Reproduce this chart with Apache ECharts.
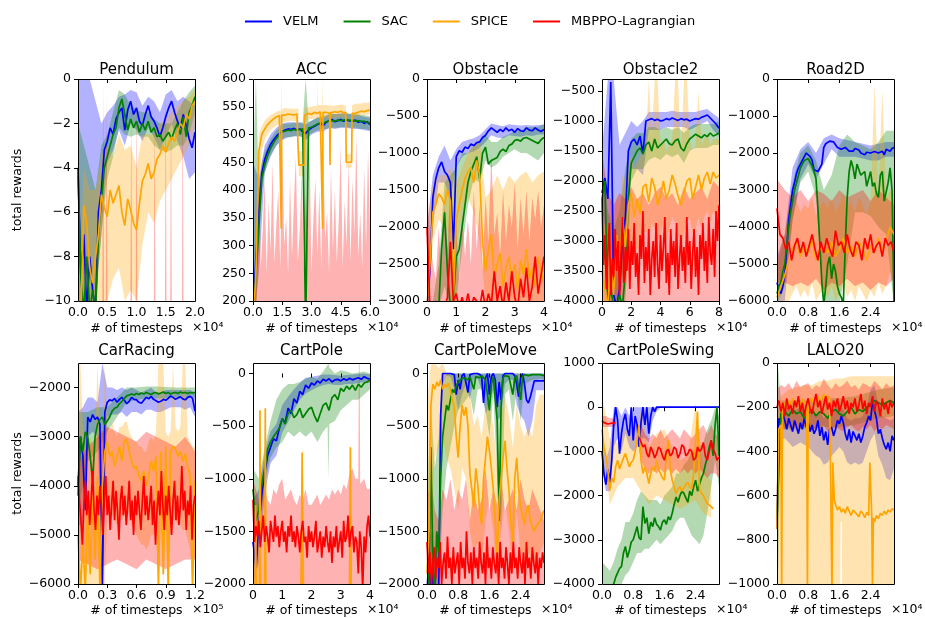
<!DOCTYPE html>
<html><head><meta charset="utf-8">
<script src="https://cdn.jsdelivr.net/npm/echarts@6/dist/echarts.min.js"></script>
<style>html,body{margin:0;padding:0;background:#fff}#c{width:925px;height:618px}</style>
</head><body><div id="c"></div>
<script>
// ---------------- DATA (x in units of the axis multiplier) ----------------
const methods = ['VELM', 'SAC', 'SPICE', 'MBPPO-Lagrangian'];

// Pendulum (x: 0..2 x1e4)
const pendulumVelm = [-4,-9,-7,-10.5,-8,-9.5,-10.5,-6,-5,-3.2,-2.8,-2.2,-2.5,-1.8,-1.5,-1.3,-2.3,-1.4,-1.0,-1.6,-1.3,-1.9,-2.1,-1.6,-1.2,-1.7,-1.9,-2.2,-2.6,-2.2,-1.7,-1.3,-1.0,-1.5,-1.9,-2.2,-1.6,-2.1,-2.7,-3.1,-2.4];
const pendulumVelmLo = [-10,-10,-10,-10,-7,-3.8,-3.2,-2.3,-3,-2,-2.3,-2.8,-2.2,-2.6,-3.2,-2.6,-2,-2.8,-3.5,-4.5,-4.2];
const pendulumVelmHi = [0,0,0,-1,-2,-1.5,-1.2,-0.8,-0.7,-0.5,-0.6,-1.2,-0.8,-1,-1.5,-0.7,-0.5,-1,-0.8,-1,-1.2];
const pendulumSac = [-4.3,-9,-10.5,-8,-10.5,-9.5,-10.5,-7,-5.5,-4,-3.5,-3,-2.5,-2.2,-1.3,-0.9,-1.6,-2.3,-1.8,-2.2,-1.9,-2.4,-2.0,-2.3,-1.9,-2.4,-2.2,-2.6,-2.5,-2.8,-2.6,-2.4,-2.7,-2.3,-2.0,-2.5,-1.7,-2.6,-1.5,-1.2,-0.8];
const pendulumSacLo = [-10,-10,-10,-10,-7,-4.5,-3.5,-2.2,-2.5,-2.6,-2.5,-2.6,-2.6,-3.0,-3.2,-3.3,-3.2,-3,-3,-2.5,-1.5];
const pendulumSacHi = [-2,-3,-4,-5,-3,-2.5,-1.5,-0.5,-0.7,-1.2,-1.4,-1.5,-1.5,-1.8,-2,-2,-2,-1.5,-1,-0.6,-0.3];
const pendulumSpice = [-10.5,-10.5,-5.7,-6.5,-8.5,-9.2,-8,-7,-5.2,-5.8,-6.2,-5.0,-5.6,-5.2,-4.8,-6.0,-6.6,-5.4,-5.9,-6.5,-6.8,-5.6,-4.6,-4.3,-3.8,-4.5,-4.2,-3.6,-3.4,-3.0,-3.3,-2.9,-2.6,-2.8,-2.4,-2.0,-2.2,-1.6,-1.8,-1.2,-1.0];
const pendulumSpiceLo = [-10,-10,-10,-10,-10,-10,-9,-8.5,-10,-9.5,-10,-7.5,-6,-6.5,-5.5,-5,-4.5,-4,-3.5,-3,-2.2];
const pendulumSpiceHi = [-10,-4,-5,-5,-3.5,-3,-3.5,-2.5,-3.2,-3,-4,-2.5,-2.5,-2.5,-2,-1.8,-1.5,-1.2,-1,-0.8,-0.5];
const pendulumMbppoBand = [[0,-12,-11],[0.415,-12,-11],[0.43,-12,0],[0.445,-12,-11],[0.475,-12,-11],[0.49,-12,-0.5],[0.505,-12,-11],[0.895,-12,-11],[0.91,-12,-0.5],[0.925,-12,-11],[0.985,-12,-11],[1.0,-12,0],[1.015,-12,-11],[1.295,-12,-11],[1.31,-12,-1],[1.325,-12,-11],[1.485,-12,-11],[1.5,-12,0],[1.515,-12,-11],[1.575,-12,-11],[1.59,-12,-0.5],[1.605,-12,-11],[1.775,-12,-11],[1.79,-12,0],[1.805,-12,-11],[2.0,-12,-11]];

// ACC (x: 0..6 x1e4)
const accVelm = [150,280,360,430,455,470,482,490,497,502,506,508,510,509,511,508,510,505,502,508,512,515,518,520,516,522,525,527,523,525,527,524,526,525,524,526,522,524,520,523,518];
const accVelmLo = [150,250,430,460,480,490,495,497,497,490,500,505,505,512,510,512,512,510,510,508,506];
const accVelmHi = [450,420,480,500,512,520,522,522,522,518,525,530,530,537,537,538,538,536,535,532,530];
const accSac = [150,250,330,420,445,462,475,485,493,499,505,506,508,507,509,508,509,510,150,512,513,516,519,521,520,523,524,525,524,526,525,526,527,525,526,524,525,523,524,522,521];
const accSacLo = [150,150,330,400,430,450,462,472,480,487,490,495,495,495,497,497,497,497,150,500,502,505,507,508,510,510,511,512,512,512,513,513,513,512,512,512,511,510,510,509,508];
const accSacHi = [450,600,400,450,470,480,492,500,507,512,518,520,520,520,521,520,521,522,600,523,525,528,531,532,534,535,536,537,537,537,538,538,538,538,537,537,537,535,535,534,533];
const accSpice = [[0,150],[0.15,250],[0.3,470],[0.45,500],[0.6,510],[0.75,518],[0.9,523],[1.05,528],[1.2,532],[1.35,534],[1.43,535],[1.45,330],[1.47,535],[1.65,535],[1.8,537],[1.95,536],[2.1,535],[2.25,537],[2.33,536],[2.35,445],[2.63,445],[2.65,535],[2.85,538],[3.0,536],[3.15,540],[3.3,538],[3.45,541],[3.55,540],[3.57,330],[3.59,540],[3.75,540],[3.93,538],[3.95,445],[3.97,539],[4.2,541],[4.35,540],[4.5,542],[4.65,539],[4.76,540],[4.78,450],[5.06,450],[5.08,538],[5.25,538],[5.4,540],[5.55,542],[5.7,541],[5.85,543],[6.0,544]];
const accSpiceBand = [[0,150,200],[0.15,150,300],[0.3,400,500],[0.45,470,515],[0.6,490,525],[0.75,500,530],[0.9,508,535],[1.05,512,538],[1.2,516,541],[1.35,520,543],[1.43,520,543],[1.45,330,600],[1.47,522,545],[1.65,522,548],[1.8,524,547],[1.95,525,547],[2.1,524,546],[2.25,525,547],[2.33,523,546],[2.35,425,470],[2.63,425,470],[2.65,523,548],[2.85,527,549],[3.0,528,550],[3.15,529,552],[3.28,528,552],[3.3,528,600],[3.32,530,553],[3.55,530,553],[3.57,330,600],[3.59,530,553],[3.75,530,553],[3.93,530,552],[3.95,440,560],[3.97,530,552],[4.2,530,552],[4.35,531,553],[4.5,531,554],[4.65,530,553],[4.76,528,552],[4.78,440,465],[5.06,440,465],[5.08,530,553],[5.25,532,555],[5.4,533,556],[5.55,534,556],[5.7,535,557],[5.85,535,557],[6.0,536,558]];
const accMbppoHi = [200,230,300,470,260,330,420,250,380,290,450,270,340,400,260,480,300,350,250,420,280,380,460,270,330,430,260,390,300,480,250,350,420,280,400,260,470,310,360,250,440,290,400,270,350,480,260,380,300,450,270,420,320,500,280,360,260,440,300,470,330];

// Obstacle (x: 0..4 x1e4)
const obstacleVelm = [-3100,-2600,-1600,-1350,-1200,-1120,-1250,-1300,-1400,-2300,-1050,-970,-990,-920,-940,-880,-900,-860,-850,-790,-760,-700,-660,-690,-720,-680,-710,-660,-700,-680,-720,-670,-700,-710,-660,-690,-700,-660,-690,-710,-680];
const obstacleVelmLo = [-3100,-2000,-1400,-1400,-1600,-1200,-1050,-1000,-980,-930,-850,-760,-790,-800,-760,-770,-780,-760,-770,-750,-750];
const obstacleVelmHi = [-2000,-1300,-1050,-900,-1100,-950,-850,-820,-800,-760,-680,-600,-620,-640,-610,-620,-630,-620,-630,-620,-620];
const obstacleSac = [-3100,-3100,-3100,-3100,-3100,-2300,-1800,-2600,-3100,-3000,-2400,-2300,-2000,-1700,-1400,-1250,-1150,-1050,-1350,-1000,-920,-1150,-1100,-1080,-1060,-980,-950,-980,-900,-880,-830,-820,-840,-800,-790,-810,-830,-850,-870,-820,-790];
const obstacleSacLo = [-3100,-3100,-3100,-2800,-3100,-3000,-2300,-1700,-1350,-1400,-1100,-1200,-1150,-1050,-1000,-950,-1000,-1000,-1050,-1100,-1000];
const obstacleSacHi = [-3000,-3000,-2500,-1400,-1300,-1200,-1000,-1000,-900,-850,-750,-850,-850,-780,-750,-700,-700,-650,-650,-650,-600];
const obstacleSpice = [-3100,-2500,-1800,-1700,-1550,-1600,-1700,-1500,-1650,-3000,-1900,-1700,-1500,-1350,-1250,-1200,-1400,-1100,-1300,-2200,-2600,-2300,-2100,-2700,-2500,-2350,-2800,-2550,-2400,-2700,-2500,-2850,-2450,-2650,-2300,-2700,-2550,-2800,-2400,-2600,-2750];
const obstacleSpiceLo = [-3100,-2200,-1900,-2000,-2100,-2300,-1800,-1600,-1800,-2200,-3000,-3000,-3100,-3100,-3100,-3100,-3100,-3100,-3100,-3100,-3100];
const obstacleSpiceHi = [-2000,-1400,-1300,-1300,-1200,-1400,-1200,-1000,-900,-800,-1600,-1500,-1300,-1500,-1300,-1400,-1300,-1250,-1400,-1300,-1250];
const obstacleMbppo = [-2000,-3100,-3100,-3000,-3100,-3050,-3100,-2950,-2200,-3000,-2900,-3100,-2950,-3100,-2900,-3100,-2950,-3000,-3100,-2850,-3100,-2900,-3050,-2600,-3000,-2800,-3100,-2750,-3000,-2600,-2950,-3100,-2700,-2950,-2550,-3000,-2800,-2400,-2900,-2650,-2400];
const obstacleMbppoHi = [-1300,-2200,-2500,-2700,-2000,-2600,-1700,-2300,-1400,-2500,-2000,-2700,-1800,-2400,-1900,-2500,-1500,-2300,-1700,-2600,-1600,-2200,-1000,-2100,-1800,-2400,-1500,-2200,-1700,-2000,-1400,-2300,-1600,-2100,-1500,-2200,-1600,-1900,-1500,-2000,-1700];

// Obstacle2 (x: 0..8 x1e4)
const obstacle2Velm = [-2200,-1950,-2300,-350,-3900,-4100,-3800,-3000,-2600,-1500,-1350,-1300,-1400,-1250,-1550,-1000,-980,-960,-990,-970,-1000,-990,-960,-980,-950,-970,-990,-960,-980,-970,-1000,-980,-960,-970,-940,-920,-900,-950,-1000,-1050,-1120];
const obstacle2VelmLo = [-2500,-3000,-4100,-4100,-3200,-1800,-1800,-1900,-1150,-1150,-1150,-1100,-1100,-1100,-1100,-1150,-1100,-1050,-1000,-1150,-1250];
const obstacle2VelmHi = [-1500,-300,-300,-1400,-1200,-1000,-1100,-1000,-850,-850,-850,-850,-830,-850,-850,-850,-850,-820,-800,-880,-950];
const obstacle2Sac = [-2300,-2000,-4100,-3800,-4100,-4100,-3900,-4100,-3500,-2300,-1700,-1600,-1500,-1450,-1550,-1400,-1350,-1500,-1300,-1450,-1400,-1350,-1300,-1380,-1400,-1330,-1300,-1450,-1500,-1380,-1300,-1260,-1220,-1250,-1280,-1230,-1260,-1200,-1250,-1230,-1200];
const obstacle2SacLo = [-2800,-4100,-4100,-4100,-4000,-2000,-1800,-1800,-1650,-1600,-1650,-1550,-1600,-1550,-1700,-1500,-1450,-1450,-1450,-1400,-1400];
const obstacle2SacHi = [-1800,-2500,-2800,-2500,-1800,-1300,-1200,-1200,-1100,-1100,-1150,-1100,-1150,-1100,-1200,-1100,-1050,-1050,-1050,-1050,-1000];
const obstacle2Spice = [-3500,-3800,-4100,-3300,-3900,-2900,-3400,-2600,-3100,-2400,-2200,-2600,-2300,-2550,-2100,-2050,-2350,-1950,-2100,-2400,-2250,-2000,-2300,-2150,-1900,-2050,-2250,-2400,-2200,-2000,-1950,-2300,-2100,-1900,-2150,-1950,-1850,-2050,-1850,-1950,-1900];
const obstacle2SpiceLo = [-4100,-4100,-4100,-4100,-4100,-3800,-4100,-3600,-3900,-3300,-3000,-3300,-3100,-3200,-2900,-2800,-3000,-2700,-2800,-3000,-2900,-2700,-3000,-2800,-2600,-2700,-2900,-3100,-2900,-2700,-2600,-2900,-2800,-2600,-2800,-2600,-2500,-2700,-2500,-2600,-2500];
const obstacle2SpiceHi = [-2500,-2800,-3000,-2500,-2700,-2200,-2400,-1900,-2000,-1700,-1600,-1800,-1700,-1600,-1500,-1400,-300,-1300,-300,-300,-1400,-1300,-1500,-1400,-1300,-300,-300,-1600,-300,-300,-1300,-1500,-1400,-500,-1400,-1300,-1200,-1400,-1300,-1300,-1300];
const obstacle2Mbppo = [-2300,-3400,-2900,-3800,-3200,-2700,-3900,-3300,-3600,-2800,
  -3500,-3000,-3900,-3200,-2600,-3700,-3100,-3500,-2800,-3800,
  -3000,-3400,-2700,-3600,-3200,-3900,-2900,-3300,-2500,-3700,
  -3100,-3500,-2800,-3900,-3300,-3000,-3600,-2700,-3400,-3800,
  -2900,-3500,-3100,-2600,-3700,-3200,-3900,-2800,-3400,-3000,
  -3600,-2700,-3800,-3300,-2900,-3500,-3100,-3700,-2600,-3400,
  -3000,-3800,-3200,-2800,-3600,-3100,-3900,-2900,-3300,-2700,
  -3500,-3000,-3700,-2600,-3200,-3400,-2800,-3600,-2500,-3000,-2400];
const obstacle2MbppoHi = [-1500,-2200,-2400,-2200,-2300,-2100,-2300,-2200,-2400,-2200,-2100,-2300,-2200,-2400,-2100,-2300,-2200,-2100,-2300,-2000,-2100];

// Road2D (x: 0..3 x1e4)
const road2dVelm = [-5500,-5700,-5800,-5600,-5300,-4600,-3800,-3400,-3000,-2800,-2550,-2400,-2300,-2200,-2100,-2000,-1950,-2100,-2200,-2450,-2400,-2500,-2550,-2300,-1850,-1750,-1700,-1680,-1650,-1700,-1750,-1850,-1850,-1900,-1900,-1850,-1850,-1950,-1900,-1950,-1880,-1920,-1920,-2000,-1950,-2050,-1980,-2000,-2000,-2050,-1960,-2000,-2000,-1950,-1950,-2050,-1900,-1950,-1950,-1880,-1850];
const road2dVelmLo = [-6100,-6000,-3800,-2700,-2300,-2700,-2300,-1900,-2100,-2100,-2100,-2150,-2200,-2200,-2100,-2100];
const road2dVelmHi = [-4800,-4200,-2400,-1900,-1700,-2000,-1600,-1500,-1600,-1650,-1700,-1750,-1800,-1750,-1700,-1700];
const road2dSac = [-5800,-5600,-5500,-5200,-5000,-4500,-4000,-3600,-3300,-3000,-2800,-2600,-2400,-2300,-2200,-2150,-2150,-2250,-2350,-2500,-2700,-3500,-4500,-5500,-6100,-5600,-5000,-4800,-5400,-5000,-5200,-5600,-5800,-5900,-6100,-4500,-3200,-2500,-2200,-2400,-2700,-2300,-2300,-2600,-2600,-2500,-2900,-2700,-2500,-2900,-2800,-3100,-3200,-2600,-2500,-3300,-3300,-2800,-2400,-3000,-6100];
const road2dSacLo = [-6100,-5600,-3800,-2800,-2500,-3200,-6100,-6100,-6100,-5000,-3600,-3600,-3700,-4000,-4200,-6100];
const road2dSacHi = [-5000,-4200,-2800,-2000,-1800,-2200,-3000,-2600,-1800,-1500,-1700,-1800,-1900,-1700,-1400,-1400];
const road2dSpice = [-5900,-5600,-5300,-4900,-4600,-4400,-4800,-4500,-4700,-4300,-4900,-4600,-4500,-4700,-4400,-4800,-4600,-4300,-4700,-4500,-4800,-4400,-4600,-4900,-4500,-4700,-4300,-4600,-4400,-4000,-4200];
const road2dSpiceLo = [-6100,-6100,-6100,-6000,-5800,-5600,-5900,-5700,-5900,-5500,-6000,-5800,-5700,-5900,-5600,-6000,-5800,-5500,-5900,-5700,-6000,-5600,-5800,-6000,-5700,-5900,-5500,-5800,-5600,-5200,-5400];
const road2dSpiceHi = [-5000,-4500,-4200,-3700,-3500,-3300,-3600,-3400,-3500,-3200,-3700,-3400,-3300,-3500,-3200,-3600,-3400,-3100,-3500,-3300,-3600,-3200,-3400,-3700,-3300,-100,-3100,-300,-3200,-3000,-3100];
const road2dMbppo = [-3500,-4200,-4300,-4600,-4400,-4900,-4500,-4300,-4700,-4400,-4800,-4500,-4200,-4600,-4900,-4400,-4700,-4300,-4600,-4800,-4100,-4500,-4400,-4700,-4200,-4600,-4800,-4400,-4500,-4900,-4300,-4600,-4200,-4700,-4500,-4400,-4800,-4300,-4500,-4400,-4700];
const road2dMbppoLo = [-5500,-5500,-5600,-5500,-5600,-5400,-5700,-5500,-5600,-5400,-5600,-5500,-5700,-5500,-5600,-5400];
const road2dMbppoHi = [-2700,-3000,-3200,-3000,-3300,-3000,-3100,-3300,-3000,-3200,-3100,-3000,-3300,-3000,-3200,-3400];

// CarRacing (x: 0..1.2 x1e5)
const carRacingVelm = [-4000,-3000,-3400,-4500,-2600,-2700,-2550,-2650,-2600,-2750,-6100,-2500,-2300,-2250,-2270,-2220,-2300,-2240,-2200,-2260,-2330,-2280,-2200,-2240,-2250,-2300,-2320,-2260,-2200,-2230,-2180,-2240,-2270,-2300,-2280,-2240,-2260,-2220,-2170,-2200,-2240,-2210,-2190,-2230,-2250,-2200,-2180,-2220,-2480];
const carRacingVelmLo = [-4800,-4800,-3000,-2900,-3000,-6100,-2600,-2550,-2550,-2500,-2600,-2500,-2500,-2550,-2450,-2450,-2500,-2500,-2450,-2400,-2400,-2400,-2450,-2400,-2600];
const carRacingVelmHi = [-2500,-2400,-2200,-2200,-2300,-1500,-2000,-2000,-2050,-2000,-2050,-2000,-2050,-2100,-2050,-2000,-2100,-2100,-2050,-2050,-2050,-2050,-2050,-2050,-2100];
const carRacingSac = [-4200,-3000,-3300,-2900,-3000,-3400,-3900,-3000,-2750,-2650,-2600,-2750,-2680,-2600,-2480,-2420,-2400,-2330,-2280,-2220,-2170,-2150,-2130,-2150,-2120,-2140,-2110,-2130,-2100,-2120,-2140,-2110,-2100,-2130,-2110,-2090,-2120,-2100,-2130,-2110,-2100,-2120,-2090,-2110,-2100,-2120,-2100,-2110,-2100];
const carRacingSacLo = [-4500,-3500,-3300,-2900,-2600,-2300,-2250,-2220,-2220,-2220,-2200,-2200,-2200];
const carRacingSacHi = [-2500,-2500,-2400,-2400,-2200,-2000,-2000,-1980,-1980,-1990,-2000,-2000,-2000];
const carRacingSpice = [-5000,-6100,-5200,-6100,-4500,-5800,-4200,-5500,-3800,-6100,-4000,-3300,-3100,-3400,-3300,-3600,-3400,-3200,-3500,-3100,-3050,-3300,-3500,-3650,-3600,-3800,-3900,-3700,-4000,-3800,-3500,-3700,-3400,-6100,-3300,-5800,-3200,-6100,-3300,-3200,-3250,-3400,-3300,-3500,-3350,-3600,-3800,-6100,-3900];
const carRacingSpiceLo = [-6100,-6100,-6100,-6100,-6100,-6100,-6100,-6100,-6100,-6100,-6100,-6100,-4500,-4600,-4600,-4700,-4800,-4700,-4700,-4600,-4500,-4600,-4800,-4900,-5000,-5100,-5200,-5200,-5300,-5200,-5000,-5000,-4900,-6100,-4800,-6100,-4700,-6100,-4800,-4700,-4700,-4800,-4800,-4900,-4900,-5100,-5300,-6100,-5400];
const carRacingSpiceHi = [-1500,-1500,-2800,-3000,-3100,-3000,-3200,-3100,-1500,-2900,-3000,-1500,-2800,-2900,-2700,-2900,-3000,-2800,-2800,-2700,-2700,-2900,-3000,-3100,-3100,-3200,-3200,-3300,-3300,-3100,-3000,-3100,-2900,-1500,-1500,-1500,-2900,-3000,-2900,-1500,-2800,-2900,-2800,-1500,-1500,-3000,-3100,-3200,-3200];
const carRacingMbppo = [-3800,-4300,-4700,-5200,-4400,-3900,-4600,-4100,-4800,-4300,
  -3700,-4500,-4900,-4200,-4600,-4000,-4400,-5000,-4300,-3800,
  -4600,-4200,-4900,-4400,-3900,-4700,-4100,-4500,-5100,-4300,
  -4000,-4600,-4200,-4800,-4400,-3900,-4700,-4300,-5000,-4200,
  -4600,-4100,-4500,-4900,-4300,-3800,-4600,-4200,-4700,-4400,
  -4000,-4800,-4300,-5200,-4500,-4100,-4600,-3700,-4400,-4900,
  -4200,-4600,-4000,-4500,-5000,-4300,-3900,-4700,-4200,-4800,
  -4400,-3600,-4500,-4100,-4900,-4300,-4600,-4000,-5100,-4400,-4200];
const carRacingMbppoLo = [-5500,-5600,-5700,-5600,-5500,-5600,-5700,-5500,-5600,-5700,-5600,-5500,-5500];
const carRacingMbppoHi = [-3500,-3200,-3000,-2800,-2900,-3000,-3100,-2900,-3000,-3100,-3200,-3000,-3300];

// CartPole (x: 0..4 x1e4)
const cartPoleVelm = [-1600,-1850,-1450,-1150,-950,-780,-700,-620,-640,-520,-430,-470,-330,-380,-240,-280,-170,-200,-110,-140,-90,-110,-70,-90,-55,-70,-50,-80,-60,-55,-70,-50,-65,-45,-60,-50,-40,-55,-30,-45,-55];
const cartPoleVelmLo = [-2000,-1800,-1150,-850,-780,-560,-460,-350,-250,-190,-160,-130,-110,-100,-110,-110,-100,-100,-90,-80,-90];
const cartPoleVelmHi = [-1200,-1100,-750,-550,-480,-300,-220,-150,-90,-40,-30,-20,-10,-10,-15,-20,-15,-10,-5,0,-10];
const cartPoleSac = [-1100,-1400,-1300,-1050,-900,-720,-650,-600,-560,-520,-430,-480,-380,-350,-420,-390,-330,-420,-380,-340,-320,-400,-460,-380,-300,-280,-350,-230,-200,-250,-140,-170,-120,-150,-110,-160,-100,-130,-90,-80,-60];
const cartPoleSacBand = [[0,-1500,-900],[0.2,-1500,-1000],[0.4,-1050,-700],[0.6,-800,-450],[0.8,-700,-250],[1.0,-650,-150],[1.2,-550,-100],[1.4,-600,-100],[1.6,-550,-80],[1.8,-600,-50],[2.0,-550,-30],[2.2,-650,-50],[2.4,-550,20],[2.55,-500,80],[2.58,-1000,100],[2.61,-480,60],[2.8,-450,0],[3.0,-350,30],[3.2,-300,20],[3.4,-250,0],[3.6,-250,10],[3.8,-200,20],[4.0,-150,0]];
const cartPoleSpice = [[0,-2100],[0.07,-2100],[0.09,-1250],[0.11,-2100],[0.22,-2100],[0.24,-350],[0.26,-2100],[0.4,-2100],[0.42,-330],[0.44,-2100],[1.65,-2100],[1.68,-750],[1.71,-2100],[3.3,-2100],[3.33,-700],[3.36,-2100],[4,-2100]];
const cartPoleSpiceBand = [[0,-2100,-2100],[0.06,-2100,-2100],[0.09,-2100,-1000],[0.12,-2100,-2100],[0.21,-2100,-2100],[0.24,-2100,-300],[0.27,-2100,-2100],[0.39,-2100,-2100],[0.42,-2100,-300],[0.45,-2100,-2100],[1.6,-2100,-2100],[1.65,-2100,-1100],[1.68,-2100,-700],[1.72,-2100,-1000],[1.76,-2100,-2100],[3.27,-2100,-2100],[3.33,-2100,-650],[3.39,-2100,-2100],[4,-2100,-2100]];
const cartPoleMbppo = [-1200,-1600,-1450,-1550,-1400,-1650,-1500,-1350,-1600,-1450,
  -1550,-1700,-1400,-1500,-1600,-1350,-1550,-1450,-1650,-1500,
  -1400,-1600,-1500,-1700,-1450,-1550,-1350,-1600,-1500,-1650,
  -1450,-1550,-1700,-1500,-1400,-1600,-1550,-1750,-1450,-1600,
  -1500,-1650,-1550,-1400,-1700,-1600,-1500,-1750,-1550,-1650,
  -1450,-1600,-1700,-1500,-1800,-1550,-1650,-1450,-1700,-1600,
  -1500,-1750,-1400,-1600,-1550,-1350,-1650,-1500,-1450,-1700,
  -1550,-1600,-1900,-1500,-1650,-2050,-1550,-1700,-1450,-1350,-1550];
const cartPoleMbppoHiA = [-1000,-1100,-1200,-1150,-1100,-1200,-1250,-1100,-1150,-1050,-1000,-1200,-1150,-1100,-1200,-1250,-1150,-1200,-1100,-1250,-1250,-1200,-1150,-1250,-1200,-1150,-1200,-1100,-1150,-1100,-1150,-1050,-1100,-950,-900,-1000];
const cartPoleMbppoTail = [[3.6,-2100,-1000],[3.62,-2100,100],[3.645,-2100,100],[3.665,-2100,-1050],[3.8,-2100,-1000],[3.9,-2100,-1100],[4.0,-2100,-1100]];

// CartPoleMove (x: 0..3 x1e4)
const cartPoleMoveVelm = [-2100,-1700,-2100,-1900,-2100,-2100,-2100,-400,0,0,0,0,0,0,-10,-200,-60,-150,-20,0,0,-180,-10,0,0,0,0,0,-20,-280,-40,0,-200,-30,0,-60,-320,-80,-250,-20,0,0,0,0,0,-20,-100,-220,-40,0,-100,-250,-280,-220,-150,-70,-70,-70,-70,-70,-70];
const cartPoleMoveVelmLo = [-2100,-2100,-2100,-2100,-100,-20,-30,-150,-350,-200,-100,-250,-50,-50,-150,-380,-300,-150,-450,-400,-100,-60,-60,-300,-400,-450,-600,-450,-160,-160,-160];
const cartPoleMoveVelmHi = [-1500,-1500,-1700,-1500,0,0,0,0,0,0,0,0,0,0,0,0,0,0,0,0,0,0,0,0,0,0,0,0,0,0,0];
const cartPoleMoveSac = [-2100,-1900,-700,-1800,-2100,-1500,-1700,-1000,-600,-450,-300,-350,-250,-150,-180,-120,-80,-60,-50,-40,-30,-60,-30,-20,-150,-30,-20,-40,-20,-30,-60,-200,-350,-100,-30,-20,-450,-1400,-300,-40,-20,-20,-30,-20,-200,-40,-20,-10,-250,-30,-10,-10,-20,-10,-10,-10,-10,-10,-10,-10,-20];
const cartPoleMoveSacLo = [-2100,-2100,-2100,-2100,-1300,-900,-700,-500,-350,-300,-250,-200,-400,-150,-150,-350,-600,-200,-1000,-1500,-200,-150,-450,-150,-450,-100,-80,-60,-60,-50,-60];
const cartPoleMoveSacHi = [-1200,-300,-900,-600,-100,0,0,0,0,0,0,0,0,0,0,0,0,0,0,0,0,0,0,0,0,0,0,0,0,0,0];
const cartPoleMoveSpice = [-1900,-1500,-300,-100,-150,-80,-120,-60,-150,-100,-130,-90,-160,-250,-320,-600,-800,-500,-300,-400,-320,-500,-950,-1100,-1270,-900,-1050,-1300,-1430,-1000,-800,-600,-730,-900,-1100,-1400,-1750,-1200,-1000,-800,-640,-900,-1100,-1400,-1600,-1000,-800,-1100,-1270,-1350,-1430,-1300,-1250,-1400,-1460,-1500,-1450,-1420,-1400,-1350,-1300];
const cartPoleMoveSpiceLo = [-2100,-1500,-800,-700,-600,-800,-900,-1100,-1300,-900,-1000,-1500,-1700,-1600,-1800,-1400,-1200,-1500,-2000,-1500,-1200,-1500,-1900,-1300,-1700,-1800,-1700,-1800,-1800,-1700,-1600];
const cartPoleMoveSpiceHi = [-300,100,100,50,100,0,0,-50,-100,-100,-50,-200,-500,-400,-600,-300,-300,-500,-900,-400,-200,-400,-700,-300,-500,-600,-500,-600,-300,-200,-200];
const cartPoleMoveMbppo = [-1600,-1900,-1700,-2000,-1800,-1650,-1950,-1750,-1850,-1600,
  -2000,-1800,-1700,-1950,-1550,-1850,-1750,-2000,-1650,-1900,
  -1800,-1700,-2000,-1600,-1850,-1750,-1950,-1500,-1800,-1900,
  -1700,-2000,-1650,-1850,-1750,-1950,-1600,-1800,-1900,-1700,
  -2000,-1550,-1850,-1750,-1950,-1650,-1800,-1900,-1700,-2000,
  -1600,-1850,-1750,-1950,-1650,-1800,-2000,-1700,-1900,-1600,
  -1850,-1750,-1950,-1650,-1800,-1900,-1700,-2000,-1600,-1850,
  -1750,-1950,-1650,-1800,-1900,-1700,-2000,-1750,-1850,-1700,-1800];
const cartPoleMoveMbppoHi = [-1200,-1000,-1300,-1400,-1100,-1200,-1000,-1300,-1100,-1200,-1000,-1400,-1100,-1300,-1200,-900,-1300,-1100,-1250,-1000,-1300,-1200,-1100,-1300,-1000,-1200,-1300,-1100,-1200,-1300,-1400];

// CartPoleSwing (x: 0..3 x1e4)
const cartPoleSwingVelm = [-1000,-1500,-1750,-1400,-1700,-1200,-400,0,-300,-1050,-600,-300,-150,-500,-650,0,-750,-200,-400,-900,-350,0,-400,0,-600,-200,0,-100,0,0,0,0,0,0,0,0,0,0,0,0,0,0,0,0,0,0,0,0,0,0,0,0,0,0,0,0,0,0,0,0,0];
const cartPoleSwingVelmLo = [-1400,-1900,-1900,-900,-700,-1000,-600,-900,-1000,-900,-700,-700,-800,-300,-100,-10,-10,-10,-10,-10,-10,-10,-10,-10,-10,-10,-10,-10,-10,-10,-10];
const cartPoleSwingVelmHi = [-500,-1200,-900,0,0,-200,0,-200,0,0,0,0,0,0,0,10,10,10,10,10,10,10,10,10,10,10,10,10,10,10,10];
const cartPoleSwingSac = [-4100,-4100,-4100,-4100,-4100,-4100,-4000,-3850,-3750,-3650,-3600,-3300,-3150,-3400,-3250,-3050,-3000,-2850,-2700,-2950,-3000,-2250,-2630,-2500,-2860,-2600,-2700,-2500,-2650,-2700,-2780,-2600,-2550,-2650,-2480,-2550,-2400,-2200,-2030,-2150,-2000,-1900,-1950,-2050,-2150,-1900,-2000,-1800,-1650,-1900,-1750,-1600,-1500,-1300,-1130,-900,-750,-1100,-400,0,-1100];
const cartPoleSwingSacLo = [-4100,-4100,-4100,-4100,-4100,-4000,-3800,-3700,-3500,-3300,-3300,-3200,-3200,-3100,-3000,-3100,-3000,-2900,-2800,-2600,-2500,-2500,-2700,-2900,-3000,-3100,-2900,-2400,-1800,-1200,-1800];
const cartPoleSwingSacHi = [-3500,-3600,-3700,-3500,-3200,-3000,-2600,-2600,-2400,-2100,-1900,-2000,-2100,-2100,-2100,-2200,-2000,-1900,-1800,-1500,-1500,-1300,-1200,-1000,-1000,-900,-800,-500,-300,0,-200];
const cartPoleSwingSpice = [-500,-900,-1100,-1430,-1880,-1600,-1700,-1350,-1200,-1400,-1280,-1150,-1050,-1200,-1350,-1250,-1200,-1000,-750,-400,-1200,-1500,-1350,-1500,-1730,-1500,-1350,-1450,-1200,-1400,-1500,-1600,-1650,-1100,-750,-1400,-1650,-1800,-1950,-1850,-1800,-1900,-1880,-1750,-1700,-1800,-1850,-1500,-800,-100,-1850,-1950,-2000,-2100,-2180,-2200,-2250,-2300];
const cartPoleSwingSpiceEnd = 2.85;
const cartPoleSwingSpiceLo = [-700,-2200,-1800,-1600,-1600,-1900,-2200,-2000,-2100,-2200,-2300,-2200,-2100,-2400,-2500];
const cartPoleSwingSpiceHi = [300,-700,-800,-500,-600,-100,-900,-600,-500,-900,-1200,-1100,100,-1400,-1700];
const cartPoleSwingSpiceBandEnd = 2.8;
const cartPoleSwingMbppo = [-300,-350,-320,-380,-340,-360,-330,-350,null,null,null,null,null,null,null,null,null,null,null,-680,-700,-900,-850,-1050,-1130,-900,-1000,-1150,-1050,-900,-950,-1100,-1200,-1000,-950,-1100,-1050,-900,-950,-1150,-1050,-850,-900,-1100,-1050,-950,-1000,-1200,-1150,-900,-1000,-950,-800,-1100,-1200,-1000,-750,-950,-1050,-1200,-1130];
const cartPoleSwingMbppoBand = [[0,-450,-200],[0.1,-450,-200],[0.2,-450,-250],[0.3,-450,-250],[0.35,-420,-280],[0.36,-350,-350],[0.94,-680,-680],[0.95,-1000,-450],[1.0,-1200,-400],[1.1,-1400,-600],[1.2,-1500,-700],[1.3,-1400,-600],[1.4,-1500,-700],[1.5,-1400,-500],[1.6,-1500,-700],[1.7,-1400,-600],[1.8,-1500,-500],[1.9,-1400,-600],[2.0,-1500,-700],[2.1,-1400,-500],[2.2,-1500,-600],[2.3,-1400,-700],[2.4,-1500,-600],[2.5,-1400,-500],[2.6,-1500,-400],[2.7,-1600,-600],[2.8,-1500,-400],[2.9,-1500,-600],[3.0,-1600,-700]];

// LALO20 (x: 0..3 x1e4)
const laloVelm = [-750,-250,-270,-230,-260,-300,-250,-280,-310,-260,-290,-320,-270,-300,-250,-290,-270,-310,-280,-320,-300,-260,-330,-290,-350,-310,-370,-300,-290,-330,-300,-260,-275,-240,-270,-320,-350,-300,-360,-310,-330,-350,-320,-360,-330,-290,-270,-240,-260,-170,-215,-250,-320,-300,-340,-370,-390,-360,-400,-330,-350];
const laloVelmLo = [-800,-350,-340,-360,-380,-370,-360,-370,-380,-400,-420,-430,-460,-450,-420,-400,-380,-400,-450,-460,-450,-460,-450,-400,-350,-320,-420,-460,-520,-530,-480];
const laloVelmHi = [-300,-200,-190,-200,-220,-210,-200,-210,-200,-220,-230,-220,-250,-240,-220,-200,-180,-210,-250,-260,-250,-250,-240,-200,-120,-100,-200,-240,-250,-260,-250];
const laloSac = [-700,-230,-220,-240,-210,-230,-220,-250,-230,-210,-240,-220,-230,-250,-220,-210,-230,-240,-220,-200,-230,-210,-220,-200,-190,-170,-180,-190,-180,-170,-180];
const laloSacBand = [[0,-1050,0],[0.02,-1050,0],[0.1,-300,-170],[0.4,-300,-170],[0.8,-300,-170],[1.2,-290,-160],[1.6,-290,-160],[2.0,-280,-150],[2.4,-260,-130],[2.6,-250,-120],[3.0,-240,-110]];
const laloSpice = [[0,-750],[0.04,-300],[0.1,-280],[0.12,-1050],[0.14,-220],[0.2,-180],[0.25,-200],[0.3,-170],[0.35,-190],[0.4,-160],[0.45,-180],[0.5,-200],[0.55,-170],[0.6,-190],[0.65,-160],[0.7,-180],[0.76,-190],[0.78,-1050],[0.8,-180],[0.85,-170],[0.9,-160],[0.95,-190],[1.0,-170],[1.05,-150],[1.1,-180],[1.15,-160],[1.2,-140],[1.25,-170],[1.3,-150],[1.35,-160],[1.39,-160],[1.41,-1050],[1.43,-450],[1.47,-620],[1.5,-640],[1.55,-665],[1.6,-650],[1.65,-675],[1.7,-660],[1.75,-680],[1.8,-650],[1.85,-670],[1.9,-690],[1.95,-665],[2.0,-660],[2.05,-685],[2.1,-695],[2.15,-670],[2.2,-680],[2.25,-700],[2.3,-675],[2.35,-690],[2.38,-450],[2.43,-690],[2.45,-1050],[2.47,-700],[2.5,-720],[2.55,-690],[2.6,-705],[2.65,-680],[2.7,-690],[2.75,-670],[2.8,-685],[2.85,-665],[2.9,-675],[2.95,-660],[3.0,-665]];
const laloSpiceBand = [[0,-1050,-700],[0.05,-1050,-200],[0.1,-1050,-150],[0.3,-1050,-120],[0.5,-1050,-110],[0.7,-1050,-100],[0.9,-1050,-100],[1.1,-1050,-80],[1.3,-1050,-80],[1.5,-1050,-70],[1.62,-1050,-70],[1.63,-720,-70],[1.66,-720,-70],[1.67,-1050,-70],[1.9,-1050,-60],[2.1,-1050,-60],[2.3,-1050,-60],[2.44,-1050,-60],[2.45,-720,-60],[2.47,-720,-60],[2.48,-1050,-60],[2.7,-1050,-60],[2.9,-1050,-60],[3.0,-1050,-60]];
const laloMbppo = [-200,-170,-220,-180,-240,-160,-210,-190,-230,-170,
  -200,-150,-220,-180,-240,-190,-160,-210,-230,-180,
  -140,-200,-170,-230,-190,-150,-210,-180,-240,-170,
  -200,-160,-220,-190,-150,-210,-170,-230,-180,-200,
  -160,-220,-190,-140,-210,-170,-230,-180,-200,-150,
  -220,-170,-190,-240,-160,-210,-180,-230,-170,-200,-180];
const laloMbppoLo = [-300,-280,-300,-290,-310,-280,-300,-290,-300,-310,-290,-300,-280,-310,-300,-290,-300,-310,-290,-280,-300,-310,-290,-300,-280,-310,-290,-300,-280,-290,-300];
const laloMbppoHi = [-120,-100,-110,-90,-120,-80,-110,-100,-90,-120,-100,-110,-70,-100,-120,-90,-110,-100,-80,-110,-100,-120,-90,-100,-110,-80,-100,-120,-90,-110,-100];

// ---------------- helpers ----------------
const seq = (vals, xEnd) => vals.map((v, i) => [i * xEnd / (vals.length - 1), v]);
const bandSeq = (lo, hi, xEnd) => hi.map((h, i) => [i * xEnd / (hi.length - 1), Array.isArray(lo) ? lo[i] : lo, h]);

const P = [
  { title: 'Pendulum', x: [0, 2, 0.5, 1], y: [-10, 0, 2], exp: '\u00d710\u2074',
    s: [[seq(pendulumVelm, 2), bandSeq(pendulumVelmLo, pendulumVelmHi, 2)],
        [seq(pendulumSac, 2), bandSeq(pendulumSacLo, pendulumSacHi, 2)],
        [seq(pendulumSpice, 2), bandSeq(pendulumSpiceLo, pendulumSpiceHi, 2)],
        [null, pendulumMbppoBand]] },
  { title: 'ACC', x: [0, 6, 1.5, 1], y: [200, 600, 50], exp: '\u00d710\u2074',
    s: [[seq(accVelm, 6), bandSeq(accVelmLo, accVelmHi, 6)],
        [seq(accSac, 6), bandSeq(accSacLo, accSacHi, 6)],
        [accSpice, accSpiceBand],
        [null, bandSeq(100, accMbppoHi, 6)]] },
  { title: 'Obstacle', x: [0, 4, 1, 0], y: [-3000, 0, 500], exp: '\u00d710\u2074',
    s: [[seq(obstacleVelm, 4), bandSeq(obstacleVelmLo, obstacleVelmHi, 4)],
        [seq(obstacleSac, 4), bandSeq(obstacleSacLo, obstacleSacHi, 4)],
        [seq(obstacleSpice, 4), bandSeq(obstacleSpiceLo, obstacleSpiceHi, 4)],
        [seq(obstacleMbppo, 4), bandSeq(-3100, obstacleMbppoHi, 4)]] },
  { title: 'Obstacle2', x: [0, 8, 2, 0], y: [-4000, -300, 500], exp: '\u00d710\u2074',
    s: [[seq(obstacle2Velm, 8), bandSeq(obstacle2VelmLo, obstacle2VelmHi, 8)],
        [seq(obstacle2Sac, 8), bandSeq(obstacle2SacLo, obstacle2SacHi, 8)],
        [seq(obstacle2Spice, 8), bandSeq(obstacle2SpiceLo, obstacle2SpiceHi, 8)],
        [seq(obstacle2Mbppo, 8), bandSeq(-4100, obstacle2MbppoHi, 8)]] },
  { title: 'Road2D', x: [0, 3, 0.8, 1], y: [-6000, 0, 1000], exp: '\u00d710\u2074',
    s: [[seq(road2dVelm, 3), bandSeq(road2dVelmLo, road2dVelmHi, 3)],
        [seq(road2dSac, 3), bandSeq(road2dSacLo, road2dSacHi, 3)],
        [seq(road2dSpice, 3), bandSeq(road2dSpiceLo, road2dSpiceHi, 3)],
        [seq(road2dMbppo, 3), bandSeq(road2dMbppoLo, road2dMbppoHi, 3)]] },
  { title: 'CarRacing', x: [0, 1.2, 0.3, 1], y: [-6000, -1500, 1000], exp: '\u00d710\u2075',
    s: [[seq(carRacingVelm, 1.2), bandSeq(carRacingVelmLo, carRacingVelmHi, 1.2)],
        [seq(carRacingSac, 1.2), bandSeq(carRacingSacLo, carRacingSacHi, 1.2)],
        [seq(carRacingSpice, 1.2), bandSeq(carRacingSpiceLo, carRacingSpiceHi, 1.2)],
        [seq(carRacingMbppo, 1.2), bandSeq(carRacingMbppoLo, carRacingMbppoHi, 1.2)]] },
  { title: 'CartPole', x: [0, 4, 1, 0], y: [-2000, 100, 500], exp: '\u00d710\u2074',
    s: [[seq(cartPoleVelm, 4), bandSeq(cartPoleVelmLo, cartPoleVelmHi, 4)],
        [seq(cartPoleSac, 4), cartPoleSacBand],
        [cartPoleSpice, cartPoleSpiceBand],
        [seq(cartPoleMbppo, 4), bandSeq(-2100, cartPoleMbppoHiA, 3.5).concat(cartPoleMbppoTail)]] },
  { title: 'CartPoleMove', x: [0, 3, 0.8, 1], y: [-2000, 100, 500], exp: '\u00d710\u2074',
    s: [[seq(cartPoleMoveVelm, 3), bandSeq(cartPoleMoveVelmLo, cartPoleMoveVelmHi, 3)],
        [seq(cartPoleMoveSac, 3), bandSeq(cartPoleMoveSacLo, cartPoleMoveSacHi, 3)],
        [seq(cartPoleMoveSpice, 3), bandSeq(cartPoleMoveSpiceLo, cartPoleMoveSpiceHi, 3)],
        [seq(cartPoleMoveMbppo, 3), bandSeq(-2100, cartPoleMoveMbppoHi, 3)]] },
  { title: 'CartPoleSwing', x: [0, 3, 0.8, 1], y: [-4000, 1000, 1000], exp: '\u00d710\u2074',
    s: [[seq(cartPoleSwingVelm, 3), bandSeq(cartPoleSwingVelmLo, cartPoleSwingVelmHi, 3)],
        [seq(cartPoleSwingSac, 3), bandSeq(cartPoleSwingSacLo, cartPoleSwingSacHi, 3)],
        [seq(cartPoleSwingSpice, cartPoleSwingSpiceEnd), bandSeq(cartPoleSwingSpiceLo, cartPoleSwingSpiceHi, cartPoleSwingSpiceBandEnd)],
        [seq(cartPoleSwingMbppo, 3), cartPoleSwingMbppoBand]] },
  { title: 'LALO20', x: [0, 3, 0.8, 1], y: [-1000, 0, 200], exp: '\u00d710\u2074',
    s: [[seq(laloVelm, 3), bandSeq(laloVelmLo, laloVelmHi, 3)],
        [seq(laloSac, 3), laloSacBand],
        [laloSpice, laloSpiceBand],
        [seq(laloMbppo, 3), bandSeq(laloMbppoLo, laloMbppoHi, 3)]] }
];

// ---------------- layout & style ----------------
const F = 'DejaVu Sans';
const lineColors = ['#0000ff', '#008000', '#ffa500', '#ff0000'];
const bandColors = ['rgba(0,0,255,0.3)', 'rgba(0,128,0,0.3)', 'rgba(255,165,0,0.3)', 'rgba(255,0,0,0.3)'];
const colLeft = [78, 253, 427, 602, 777], gw = 117;
const rowTop = [79, 363], rowH = [222, 221];
const titleY = [70.5, 351], nameY = [328, 610];

function fmt(min, iv, dec) {
  return function (v) {
    const k = (v - min) / iv;
    if (Math.abs(k - Math.round(k)) > 1e-6) return '';
    return (Math.abs(v) < 1e-9 ? 0 : v).toFixed(dec).replace('-', '\u2212');
  };
}
function axis(kind, gi, r, min, max, iv, dec, nameOn) {
  const ticks = [];
  for (let k = 0; min + k * iv <= max + 1e-9; k++) ticks.push(+(min + k * iv).toFixed(6));
  const a = {
    type: 'value', gridIndex: gi, min: min, max: max, interval: iv, z: 10,
    axisLine: { show: false },
    axisTick: { show: true, inside: false, length: 4, lineStyle: { color: '#000', width: 1 }, customValues: ticks },
    axisLabel: { show: true, margin: kind === 'x' ? 5 : 7, fontSize: 12.5, color: '#000', fontFamily: F,
                 customValues: ticks, formatter: fmt(min, iv, dec), hideOverlap: false },
    splitLine: { show: false }
  };
  if (kind === 'x') {
    a.name = '# of timesteps'; a.nameLocation = 'middle'; a.nameGap = r === 0 ? 21 : 20;
    a.nameTextStyle = { fontSize: 12.5, color: '#000', fontFamily: F };
  } else if (nameOn) {
    a.name = 'total rewards'; a.nameLocation = 'middle'; a.nameGap = 54;
    a.nameTextStyle = { fontSize: 12.5, color: '#000', fontFamily: F };
  }
  return a;
}
function bandSeries(gi, pts, color) {
  return {
    type: 'custom', xAxisIndex: gi, yAxisIndex: gi, clip: true, silent: true, z: 2,
    data: [[pts[0][0], pts[0][1]]],
    renderItem: function (params, api) {
      const up = pts.map(function (p) { return api.coord([p[0], p[2]]); });
      const dn = pts.map(function (p) { return api.coord([p[0], p[1]]); }).reverse();
      return { type: 'polygon', shape: { points: up.concat(dn) }, style: { fill: color } };
    }
  };
}

const grids = [], xAxes = [], yAxes = [], series = [], graphics = [];
P.forEach(function (p, i) {
  const r = Math.floor(i / 5), c = i % 5;
  const L = colLeft[c], T = rowTop[r], H = rowH[r];
  grids.push({ left: L, top: T, width: gw, height: H, containLabel: false, show: false });
  xAxes.push(axis('x', i, r, p.x[0], p.x[1], p.x[2], p.x[3]));
  yAxes.push(axis('y', i, r, p.y[0], p.y[1], p.y[2], 0, c === 0));
  p.s.forEach(function (ms, m) {
    if (ms[1]) series.push(bandSeries(i, ms[1], bandColors[m]));
    if (ms[0]) series.push({
      type: 'line', name: methods[m], xAxisIndex: i, yAxisIndex: i, data: ms[0],
      showSymbol: false, symbol: 'none', clip: true, silent: true, z: 2,
      color: lineColors[m], itemStyle: { color: lineColors[m] },
      lineStyle: { color: lineColors[m], width: 1.7 }, connectNulls: false
    });
  });
  graphics.push({ type: 'rect', silent: true, z: 100,
    shape: { x: L + 0.5, y: T + 0.5, width: gw, height: H },
    style: { fill: null, stroke: '#000', lineWidth: 1 } });
  graphics.push({ type: 'text', silent: true, z: 100, x: L + gw / 2, y: titleY[r],
    style: { text: p.title, fill: '#000', font: '15px "DejaVu Sans"', textAlign: 'center', textVerticalAlign: 'middle' } });
  graphics.push({ type: 'text', silent: true, z: 100, x: L + gw - 3, y: nameY[r],
    style: { text: p.exp, fill: '#000', font: '12.5px "DejaVu Sans"', textAlign: 'left', textVerticalAlign: 'middle' } });
});

const chart = echarts.init(document.getElementById('c'), null, { renderer: 'canvas' });
chart.setOption({
  animation: false,
  backgroundColor: '#ffffff',
  textStyle: { fontFamily: F },
  legend: {
    data: methods, top: 10, left: 240, itemWidth: 27, itemHeight: 2, itemGap: 25, icon: 'rect',
    textStyle: { fontFamily: F, fontSize: 13, color: '#000', padding: [0, 0, 0, 6] }
  },
  grid: grids, xAxis: xAxes, yAxis: yAxes, series: series,
  graphic: { elements: graphics }
});
</script></body></html>
